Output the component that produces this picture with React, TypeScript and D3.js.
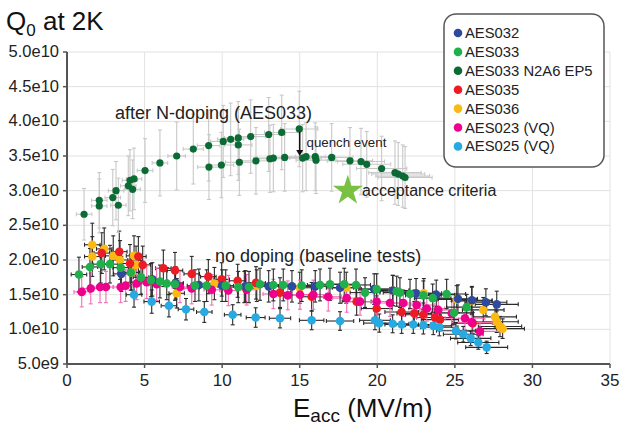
import * as d3 from 'd3';

// Q0 values in units of 1e10, Eacc in MV/m
const xTicks = [0, 5, 10, 15, 20, 25, 30, 35];
const yTicks = [0.5, 1.0, 1.5, 2.0, 2.5, 3.0, 3.5, 4.0, 4.5, 5.0];
const yTickLabels = ['5.0e9', '1.0e10', '1.5e10', '2.0e10', '2.5e10', '3.0e10', '3.5e10', '4.0e10', '4.5e10', '5.0e10'];

const aes036 = [
  [1.63, 2.22], [2.4, 2.16], [1.63, 2.05], [2.98, 2.06], [3.42, 2.0], [4.32, 2.06], [4.45, 1.93],
  [4.17, 1.82], [7.07, 1.52], [9.5, 1.66], [11.43, 1.61], [12.23, 1.63], [15.0, 1.6], [18.0, 1.6],
  [21.0, 1.56], [23.0, 1.52], [25.12, 1.43], [26.09, 1.41], [26.83, 1.28], [27.59, 1.18],
  [27.7, 1.11], [27.91, 1.04], [28.08, 1.01],
];
const aes035 = [
  [2.24, 2.1], [3.37, 2.12], [4.6, 2.05], [4.06, 1.95], [4.88, 1.93], [6.21, 1.88], [6.96, 1.85],
  [8.04, 1.8], [9.11, 1.76], [9.97, 1.72], [11.0, 1.7], [12.18, 1.67], [13.73, 1.53], [15.77, 1.47],
  [18.67, 1.4], [19.96, 1.3], [21.57, 1.25], [22.39, 1.23], [22.97, 1.21], [23.72, 1.17],
  [24.04, 1.14], [26.15, 1.09],
];
const aes023 = [
  [0.95, 1.54], [1.53, 1.59], [2.13, 1.61], [2.51, 1.61], [3.46, 1.61], [3.78, 1.63], [4.49, 1.66],
  [5.14, 1.68], [5.78, 1.65], [7.28, 1.61], [8.04, 1.59], [9.33, 1.57], [10.4, 1.56], [11.58, 1.57],
  [13.3, 1.51], [14.23, 1.49], [15.02, 1.5], [15.88, 1.5], [16.84, 1.47], [18.03, 1.45],
  [18.89, 1.4], [19.96, 1.4], [20.82, 1.38], [21.68, 1.38], [22.54, 1.35], [23.19, 1.3],
  [23.93, 1.28], [24.8, 1.23], [25.65, 1.16], [26.09, 1.1], [26.62, 0.97],
];
const aes032 = [
  [3.5, 1.8], [5.5, 1.72], [7.0, 1.67], [8.5, 1.64], [10.0, 1.63], [11.5, 1.62], [13.0, 1.62],
  [14.5, 1.62], [16.0, 1.62], [17.6, 1.6], [19.8, 1.58], [21.0, 1.56], [22.5, 1.52], [23.8, 1.5],
  [25.2, 1.44], [26.1, 1.42], [27.0, 1.39], [27.7, 1.36],
];
const aes033 = [
  [0.77, 1.79], [1.48, 1.9], [2.17, 1.94], [2.77, 1.94], [3.46, 1.89], [4.11, 1.82], [4.77, 1.75],
  [5.41, 1.71], [5.99, 1.69], [6.43, 1.66], [6.96, 1.65], [8.25, 1.63], [9.0, 1.63], [10.23, 1.63],
  [11.04, 1.61], [11.73, 1.61], [12.44, 1.65], [13.3, 1.64], [13.94, 1.64], [15.13, 1.63],
  [16.31, 1.64], [16.95, 1.65], [17.87, 1.65], [18.63, 1.64], [19.21, 1.53], [19.96, 1.58],
  [21.25, 1.55], [21.46, 1.53], [22.11, 1.51], [22.97, 1.49], [23.57, 1.45], [24.47, 1.51],
  [24.95, 1.24], [25.76, 1.32],
];
const aes025 = [
  [4.32, 1.5], [5.46, 1.4], [6.57, 1.34], [7.67, 1.29], [8.85, 1.25], [10.68, 1.21], [12.16, 1.17],
  [13.73, 1.16], [15.77, 1.13], [17.6, 1.12], [19.85, 1.13], [20.13, 1.09], [20.99, 1.08],
  [21.57, 1.07], [22.32, 1.07], [22.97, 1.06], [23.61, 1.05], [24.0, 1.03], [25.07, 0.98],
  [25.54, 0.93], [26.02, 0.87], [26.51, 0.81], [27.05, 0.74],
];
const aes033Doped = [
  [1.1, 2.66], [2.08, 2.86], [2.08, 2.78], [2.95, 2.9], [3.16, 3.0], [3.31, 2.79], [3.95, 3.07],
  [4.06, 3.15], [4.23, 3.02], [4.32, 3.17], [5.03, 3.29], [5.99, 3.4], [7.07, 3.5], [8.14, 3.6],
  [9.13, 3.65], [9.15, 3.34], [9.95, 3.37], [10.07, 3.71], [10.55, 3.74], [11.04, 3.76],
  [11.04, 3.66], [11.11, 3.41], [11.84, 3.78], [12.18, 3.43], [13.0, 3.81], [13.08, 3.46],
  [13.3, 3.47], [13.84, 3.84], [14.03, 3.48], [14.97, 3.89], [15.19, 3.47], [15.41, 3.49],
  [16.0, 3.49], [16.05, 3.44], [17.06, 3.48], [18.24, 3.43], [18.95, 3.42], [19.32, 3.38],
  [20.28, 3.32], [21.14, 3.26], [21.35, 3.24], [21.64, 3.21], [21.79, 3.19],
];

// error bar half-widths as fractions: [E, Q]
const series = [
  { name: 'AES036', data: aes036, color: '#fdb913', bar: '#2a2a2a', err: [0.05, 0.14] },
  { name: 'AES035', data: aes035, color: '#ed1c24', bar: '#2a2a2a', err: [0.05, 0.14] },
  { name: 'AES023 (VQ)', data: aes023, color: '#ec008c', bar: '#f06eb0', err: [0.05, 0.14] },
  { name: 'AES032', data: aes032, color: '#2e4a9e', bar: '#2a2a2a', err: [0.05, 0.14] },
  { name: 'AES033', data: aes033, color: '#1fb04b', bar: '#2a2a2a', err: [0.05, 0.14] },
  { name: 'AES025 (VQ)', data: aes025, color: '#27aae1', bar: '#2a2a2a', err: [0.05, 0.12] },
  { name: 'AES033 N2A6 EP5', data: aes033Doped, color: '#0b6b34', bar: '#c8c8c8', err: [0.08, 0.14] },
];
const legendOrder = ['AES032', 'AES033', 'AES033 N2A6 EP5', 'AES035', 'AES036', 'AES023 (VQ)', 'AES025 (VQ)'];

const acceptance = [18.1, 3.0];
const quench = { e: 15.0, from: 3.85, to: 3.5 };

const W = 624, H = 424;
const left = 67, right = 610, top = 52, bottom = 364;
const font = 'Arial, "Liberation Sans", sans-serif';

export default function App() {
  const x = d3.scaleLinear().domain([0, 35]).range([left, right]);
  const y = d3.scaleLinear().domain([0.5, 5.0]).range([bottom, top]);
  const star = d3.symbol().type(d3.symbolStar).size(280)();
  const colorOf = (n: string) => series.find(s => s.name === n)!.color;

  return (
    <svg width={W} height={H} style={{ position: 'absolute', left: 0, top: 0, background: '#fff' }}
      fontFamily={font}>
      {/* grid */}
      {xTicks.slice(1).map(t => (
        <line key={'gx' + t} x1={x(t)} x2={x(t)} y1={top} y2={bottom} stroke="#e2e2e2" strokeWidth={1} />
      ))}
      {yTicks.slice(1).map(t => (
        <line key={'gy' + t} x1={left} x2={right} y1={y(t)} y2={y(t)} stroke="#e2e2e2" strokeWidth={1} />
      ))}

      {/* error bars */}
      {series.map(s => (
        <g key={'e' + s.name} stroke={s.bar} strokeWidth={1.1} fill="none">
          {s.data.map(([e, q], i) => {
            const dx = Math.max(0.5, e * s.err[0]);
            const dq = q * s.err[1];
            return (
              <g key={i}>
                <line x1={x(e - dx)} x2={x(e + dx)} y1={y(q)} y2={y(q)} />
                <line x1={x(e)} x2={x(e)} y1={y(q - dq)} y2={y(q + dq)} />
                <line x1={x(e) - 2} x2={x(e) + 2} y1={y(q - dq)} y2={y(q - dq)} />
                <line x1={x(e) - 2} x2={x(e) + 2} y1={y(q + dq)} y2={y(q + dq)} />
                <line x1={x(e - dx)} x2={x(e - dx)} y1={y(q) - 2} y2={y(q) + 2} />
                <line x1={x(e + dx)} x2={x(e + dx)} y1={y(q) - 2} y2={y(q) + 2} />
              </g>
            );
          })}
        </g>
      ))}

      {/* points */}
      {series.map(s => (
        <g key={'p' + s.name} fill={s.color}>
          {s.data.map(([e, q], i) => (
            <circle key={i} cx={x(e)} cy={y(q)} r={s.name === 'AES033 N2A6 EP5' ? 3.6 : 4.3} />
          ))}
        </g>
      ))}

      {/* axes */}
      <line x1={left} x2={right} y1={bottom} y2={bottom} stroke="#555" strokeWidth={2} />
      <line x1={left} x2={left} y1={top} y2={bottom} stroke="#555" strokeWidth={2} />
      {xTicks.map(t => (
        <g key={'xt' + t}>
          <line x1={x(t)} x2={x(t)} y1={bottom} y2={bottom + 4} stroke="#555" strokeWidth={1.5} />
          <text x={x(t)} y={386} textAnchor="middle" fontSize={17} fill="#222">{t}</text>
        </g>
      ))}
      {yTicks.map((t, i) => (
        <g key={'yt' + t}>
          <line x1={left - 4} x2={left} y1={y(t)} y2={y(t)} stroke="#555" strokeWidth={1.5} />
          <text x={59} y={y(t) + 5} textAnchor="end" fontSize={16.5} fill="#222">{yTickLabels[i]}</text>
        </g>
      ))}

      {/* title & axis label */}
      <text x={6} y={30} fontSize={26} fill="#111">
        Q<tspan fontSize={17} dy={6}>0</tspan><tspan dy={-6}> at 2K</tspan>
      </text>
      <text x={293} y={416.5} fontSize={26} fill="#111">
        E<tspan fontSize={19} dy={5}>acc</tspan><tspan dy={-5}> (MV/m)</tspan>
      </text>

      {/* annotations */}
      <text x={115} y={119} fontSize={18} fill="#222">after N-doping (AES033)</text>
      <text x={215} y={262} fontSize={18} fill="#222">no doping (baseline tests)</text>
      <line x1={x(quench.e)} x2={x(quench.e)} y1={y(quench.from)} y2={y(quench.to) - 4} stroke="#111" strokeWidth={1.5} />
      <path d={`M${x(quench.e) - 3.5},${y(quench.to) - 6}L${x(quench.e) + 3.5},${y(quench.to) - 6}L${x(quench.e)},${y(quench.to)}Z`} fill="#111" />
      <text x={306.5} y={146.5} fontSize={13.3} fill="#222">quench event</text>
      <path d={star} transform={`translate(${x(acceptance[0])},${y(acceptance[1])})`} fill="#7ac143" />
      <text x={362} y={196} fontSize={16} fill="#222">acceptance criteria</text>

      {/* legend */}
      <rect x={444} y={14} width={160} height={153} rx={12} fill="#fff" stroke="#555" strokeWidth={1.5} />
      {legendOrder.map((n, i) => (
        <g key={'l' + n} transform={`translate(0,${33 + i * 18.9})`}>
          <circle cx={458} cy={0} r={4.3} fill={colorOf(n)} />
          <text x={465} y={5} fontSize={14.8} fill="#222">{n}</text>
        </g>
      ))}
    </svg>
  );
}
